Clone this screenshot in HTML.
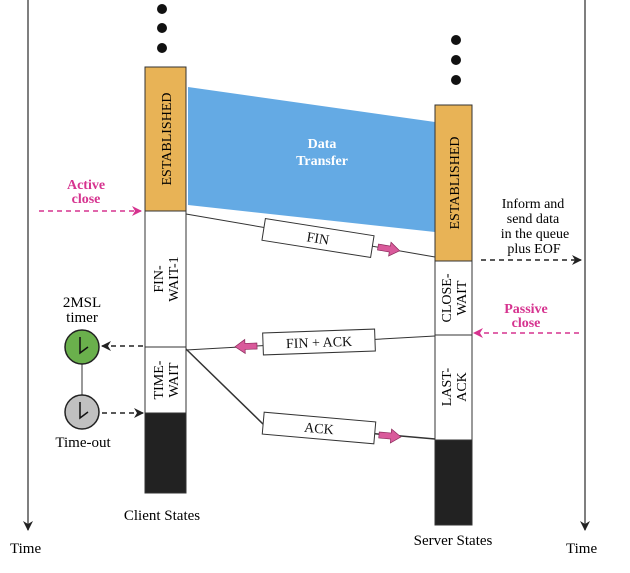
<!DOCTYPE html>
<html><head><style>body{margin:0;background:#fff}svg{display:block}text{font-family:"Liberation Serif",serif}</style></head><body>
<svg width="630" height="573" viewBox="0 0 630 573" xmlns="http://www.w3.org/2000/svg">
<defs>
<marker id="ak" markerWidth="10" markerHeight="10" refX="9" refY="5" orient="auto" markerUnits="userSpaceOnUse"><path d="M0,0 L10,5 L0,10 L3,5z" fill="#222"/></marker>
<marker id="ap" markerWidth="10" markerHeight="10" refX="9" refY="5" orient="auto" markerUnits="userSpaceOnUse"><path d="M0,0 L10,5 L0,10 L3,5z" fill="#d6338f"/></marker>
</defs>
<line x1="28" y1="0" x2="28" y2="530" stroke="#555" stroke-width="1.5" marker-end="url(#ak)"/>
<line x1="585" y1="0" x2="585" y2="530" stroke="#555" stroke-width="1.5" marker-end="url(#ak)"/>
<text x="10" y="553" font-size="15">Time</text>
<text x="566" y="553" font-size="15">Time</text>
<g fill="#111"><circle cx="162" cy="9" r="5"/><circle cx="162" cy="28" r="5"/><circle cx="162" cy="48" r="5"/>
<circle cx="456" cy="40" r="5"/><circle cx="456" cy="60" r="5"/><circle cx="456" cy="80" r="5"/></g>
<polygon points="188,87 435,122 435,232 188,205" fill="#64aae4"/>
<text x="322" y="148" font-size="14" font-weight="bold" fill="#fff" text-anchor="middle" font-family="Liberation Sans">Data</text>
<text x="322" y="165" font-size="14" font-weight="bold" fill="#fff" text-anchor="middle" font-family="Liberation Sans">Transfer</text>
<g stroke="#333" stroke-width="1">
<rect x="145" y="67" width="41" height="144" fill="#e8b356"/>
<rect x="145" y="211" width="41" height="136" fill="#fff"/>
<rect x="145" y="347" width="41" height="66" fill="#fff"/>
<rect x="145" y="413" width="41" height="80" fill="#222"/>
<rect x="435" y="105" width="37" height="156" fill="#e8b356"/>
<rect x="435" y="261" width="37" height="74" fill="#fff"/>
<rect x="435" y="335" width="37" height="105" fill="#fff"/>
<rect x="435" y="440" width="37" height="85" fill="#222"/>
</g>
<g font-size="14" text-anchor="middle">
<text transform="translate(171,139) rotate(-90)">ESTABLISHED</text>
<text transform="translate(163,279) rotate(-90)">FIN-</text>
<text transform="translate(178,279) rotate(-90)">WAIT-1</text>
<text transform="translate(163,380) rotate(-90)">TIME-</text>
<text transform="translate(178,380) rotate(-90)">WAIT</text>
<text transform="translate(459,183) rotate(-90)">ESTABLISHED</text>
<text transform="translate(451,298) rotate(-90)">CLOSE-</text>
<text transform="translate(466,298) rotate(-90)">WAIT</text>
<text transform="translate(451,387) rotate(-90)">LAST-</text>
<text transform="translate(466,387) rotate(-90)">ACK</text>
</g>
<g stroke="#333" stroke-width="1" fill="none">
<line x1="186" y1="214" x2="435" y2="257"/>
<line x1="186" y1="350" x2="435" y2="336"/>
<polyline points="186,349 263,424 435,439" stroke-width="1.5"/>
</g>
<g stroke="#333" fill="#fff" font-size="14">
<g transform="translate(318,238) rotate(9)"><rect x="-55" y="-11" width="110" height="22"/><text x="0" y="5" text-anchor="middle" stroke="none" fill="#111">FIN</text></g>
<g transform="translate(319,342) rotate(-2)"><rect x="-56" y="-11" width="112" height="22"/><text x="0" y="5" text-anchor="middle" stroke="none" fill="#111">FIN + ACK</text></g>
<g transform="translate(319,428) rotate(5)"><rect x="-56" y="-11" width="112" height="22"/><text x="0" y="5" text-anchor="middle" stroke="none" fill="#111">ACK</text></g>
</g>
<g fill="#d95a9b" stroke="#8a2a5a" stroke-width="0.7">
<path d="M0,-3 L12,-3 L12,-7 L22,0 L12,7 L12,3 L0,3z" transform="translate(378,247) rotate(10)"/>
<path d="M0,-3 L12,-3 L12,-7 L22,0 L12,7 L12,3 L0,3z" transform="translate(257,346) rotate(178)"/>
<path d="M0,-3 L12,-3 L12,-7 L22,0 L12,7 L12,3 L0,3z" transform="translate(379,435) rotate(5)"/>
</g>
<text x="86" y="189" font-size="14" font-weight="bold" fill="#d6338f" text-anchor="middle">Active</text>
<text x="86" y="203" font-size="14" font-weight="bold" fill="#d6338f" text-anchor="middle">close</text>
<line x1="39" y1="211" x2="141" y2="211" stroke="#d6338f" stroke-width="1.5" stroke-dasharray="5,4" marker-end="url(#ap)"/>
<text x="526" y="313" font-size="14" font-weight="bold" fill="#d6338f" text-anchor="middle">Passive</text>
<text x="526" y="327" font-size="14" font-weight="bold" fill="#d6338f" text-anchor="middle">close</text>
<line x1="579" y1="333" x2="474" y2="333" stroke="#d6338f" stroke-width="1.5" stroke-dasharray="5,4" marker-end="url(#ap)"/>
<g font-size="14" text-anchor="middle">
<text x="533" y="208">Inform and</text>
<text x="533" y="223">send data</text>
<text x="535" y="238">in the queue</text>
<text x="534" y="253">plus EOF</text>
</g>
<line x1="481" y1="260" x2="581" y2="260" stroke="#222" stroke-width="1.5" stroke-dasharray="5,4" marker-end="url(#ak)"/>
<text x="82" y="307" font-size="15" text-anchor="middle">2MSL</text>
<text x="82" y="322" font-size="15" text-anchor="middle">timer</text>
<line x1="82" y1="347" x2="82" y2="412" stroke="#333"/>
<circle cx="82" cy="347" r="17" fill="#6ab04c" stroke="#222" stroke-width="1.5"/>
<polyline points="80,337 80,353 88,347" fill="none" stroke="#111" stroke-width="1.5"/>
<circle cx="82" cy="412" r="17" fill="#c0c0c0" stroke="#222" stroke-width="1.5"/>
<polyline points="80,402 80,418 88,412" fill="none" stroke="#111" stroke-width="1.5"/>
<line x1="143" y1="346" x2="102" y2="346" stroke="#222" stroke-width="1.5" stroke-dasharray="5,4" marker-end="url(#ak)"/>
<line x1="102" y1="413" x2="143" y2="413" stroke="#222" stroke-width="1.5" stroke-dasharray="5,4" marker-end="url(#ak)"/>
<text x="83" y="447" font-size="15" text-anchor="middle">Time-out</text>
<text x="162" y="520" font-size="15" text-anchor="middle">Client States</text>
<text x="453" y="545" font-size="15" text-anchor="middle">Server States</text>
</svg>
</body></html>
